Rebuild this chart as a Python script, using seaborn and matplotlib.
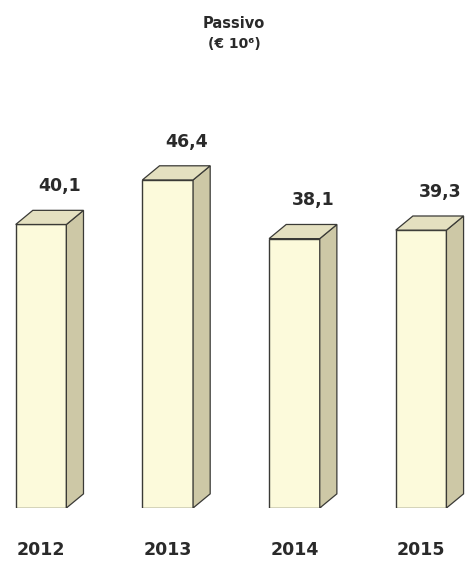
import matplotlib
matplotlib.use("Agg")
import matplotlib.pyplot as plt
import seaborn as sns
import pandas as pd
from matplotlib.patches import Polygon

# dados
anos = ['2012', '2013', '2014', '2015']
passivo = [40.1, 46.4, 38.1, 39.3]
rotulos = ['40,1', '46,4', '38,1', '39,3']

df = pd.DataFrame({'ano': anos, 'valor': passivo})

sns.set_style('white')
plt.rcParams['font.family'] = ['DejaVu Sans']

fig = plt.figure(figsize=(4.68, 5.63), dpi=100)
ax = fig.add_axes([0, 0.0977, 1, 0.9023])

frente = '#fcfadb'
lado = '#cdc8a6'
topo = '#e4e0c0'
borda = '#3a3a36'

sns.barplot(data=df, x='ano', y='valor', color=frente, width=0.40,
            edgecolor=borda, linewidth=1.0, saturation=1, ax=ax)

ax.set_xlim(-0.324, 3.37)
ax.set_ylim(0, 71.85)

# profundidade (efeito 3D)
dx, dy = 0.135, 2.0
for p, txt in zip(ax.patches, rotulos):
    x0 = p.get_x()
    w = p.get_width()
    h = p.get_height()
    x1 = x0 + w
    ax.add_patch(Polygon([(x1, 0), (x1 + dx, dy), (x1 + dx, h + dy), (x1, h)],
                         closed=True, facecolor=lado, edgecolor=borda, linewidth=0.9))
    ax.add_patch(Polygon([(x0, h), (x0 + dx, h + dy), (x1 + dx, h + dy), (x1, h)],
                         closed=True, facecolor=topo, edgecolor=borda, linewidth=0.9))
    ax.text(x0 + w / 2 + 0.15, h + 5.4, txt, ha='center', va='center',
            fontsize=12.5, fontweight='bold', color='#2a2a2a')

ax.set_xlabel('')
ax.set_ylabel('')
ax.set_yticks([])
ax.tick_params(axis='x', length=0, pad=24, labelsize=12.5, labelcolor='#2a2a2a')
for t in ax.get_xticklabels():
    t.set_fontweight('bold')
sns.despine(ax=ax, left=True, bottom=True)

fig.text(0.5, 1 - 23 / 563, 'Passivo', ha='center', va='center',
         fontsize=10.5, fontweight='bold', color='#2a2a2a')
fig.text(0.5, 1 - 44 / 563, '(€ 10⁶)', ha='center', va='center',
         fontsize=10, fontweight='bold', color='#2a2a2a')

fig.savefig('out.png', dpi=100)
